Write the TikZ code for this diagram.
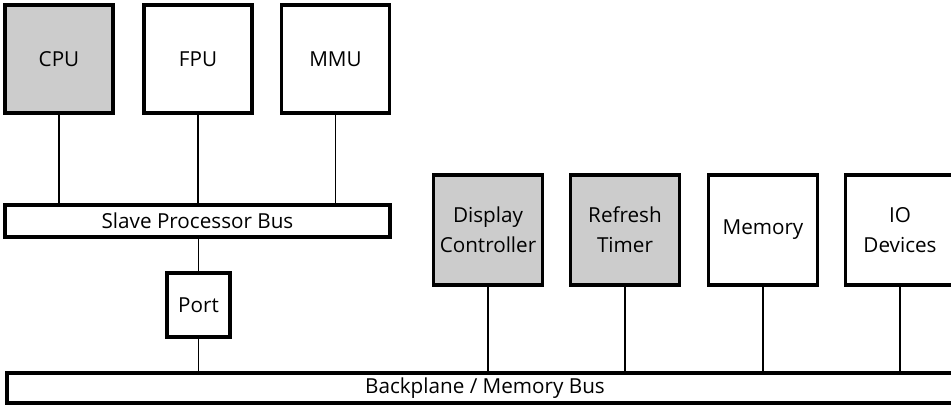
\documentclass[tikz,border=0pt]{standalone}
\usepackage{fontspec}
\setmainfont{Open Sans}
\begin{document}
\begin{tikzpicture}[x=0.75pt,y=-0.75pt,
  unit/.style={draw, line width=2.6pt, minimum width=108*0.75pt, minimum height=108*0.75pt,
    inner sep=0pt, align=center, font=\fontsize{15.5}{22.5}\selectfont},
  shaded/.style={unit, fill=black!20},
  lower/.style={minimum width=109*0.75pt, minimum height=110*0.75pt},
  bus/.style={draw, line width=2.6pt, inner sep=0pt, font=\fontsize{15.5}{22.5}\selectfont},
  wire/.style={line width=1.25pt}]
\useasboundingbox (0,0) rectangle (951,405);
\clip (0,0) rectangle (951,405);

% processor group
\node[shaded] (cpu) at (59,59) {CPU};
\node[unit]   (fpu) at (198,59) {FPU};
\node[unit]   (mmu) at (335.5,59) {MMU};
\node[bus, minimum width=385*0.75pt, minimum height=32*0.75pt] (sbus) at (197.5,221) {Slave Processor Bus};
\node[unit, minimum width=63*0.75pt, minimum height=64*0.75pt] (port) at (198.5,305) {Port};

% system bus devices
\node[shaded, lower] (disp) at (488,230) {Display\\Controller};
\node[shaded, lower] (refr) at (625,230) {Refresh\\Timer};
\node[unit, lower]   (mem)  at (763,230) {Memory};
\node[unit, lower]   (io)   at (900,230) {IO\\Devices};
\node[bus, minimum width=956*0.75pt, minimum height=30*0.75pt] (bbus) at (485,388) {Backplane / Memory Bus};

% connections
\foreach \n in {cpu,fpu,mmu}
  \draw[wire] (\n.south) -- (\n.south |- sbus.north);
\draw[wire] (sbus.south -| port.north) -- (port.north);
\draw[wire] (port.south) -- (port.south |- bbus.north);
\foreach \n in {disp,refr,mem,io}
  \draw[wire] (\n.south) -- (\n.south |- bbus.north);
\end{tikzpicture}
\end{document}
